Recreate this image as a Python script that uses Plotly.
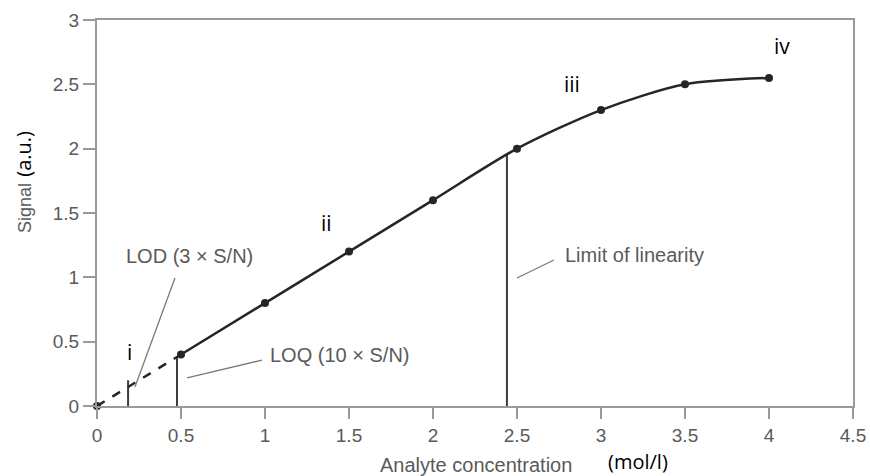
import plotly.graph_objects as go

# ---- data ----
conc = [0.5, 1.0, 1.5, 2.0, 2.5, 3.0, 3.5, 4.0]
signal = [0.4, 0.8, 1.2, 1.6, 2.0, 2.3, 2.5, 2.55]
dash_conc = [0.0, 0.5]
dash_signal = [0.0, 0.4]
origin_conc = [0.0]
origin_signal = [0.0]
limit_names = ["LOD", "LOQ", "Limit of linearity"]
limit_conc = [0.185, 0.476, 2.44]
limit_top = [0.2, 0.38, 1.96]
x_ticks = [0, 0.5, 1, 1.5, 2, 2.5, 3, 3.5, 4, 4.5]
y_ticks = [0, 0.5, 1, 1.5, 2, 2.5, 3]

GRAY_TXT = "#5a5a5a"
AXIS = "#9a9a9a"
LINE = "#262626"
SANS = "Liberation Sans, Arial, sans-serif"
CAL = "Open Sans, sans-serif"

fig = go.Figure()

# vertical limit markers
for xv, yt in zip(limit_conc, limit_top):
    fig.add_trace(go.Scatter(x=[xv, xv], y=[0, yt], mode="lines",
                             line=dict(color="#3c3c3c", width=2),
                             showlegend=False, hoverinfo="skip"))

fig.add_trace(go.Scatter(x=dash_conc, y=dash_signal, mode="lines",
                         line=dict(color=LINE, width=2.5, dash="dash"),
                         showlegend=False))
fig.add_trace(go.Scatter(x=conc, y=signal, mode="lines+markers",
                         line=dict(color=LINE, width=2.5, shape="spline", smoothing=0.8),
                         marker=dict(color=LINE, size=8),
                         showlegend=False))
fig.add_trace(go.Scatter(x=origin_conc, y=origin_signal, mode="markers",
                         marker=dict(color=LINE, size=8), showlegend=False,
                         cliponaxis=False))

# leader lines
leaders = [((0.464, 0.995), (0.226, 0.148)),
           ((0.536, 0.218), (0.982, 0.357)),
           ((2.5, 0.995), (2.72, 1.135))]
for (x0, y0), (x1, y1) in leaders:
    fig.add_shape(type="line", x0=x0, y0=y0, x1=x1, y1=y1, xref="x", yref="y",
                  line=dict(color="#7a7a7a", width=1.3))

ann = []
def txt(x, y, t, font, size, color, xanchor="left", **kw):
    ann.append(dict(x=x, y=y, text=t, showarrow=False, xanchor=xanchor,
                    yanchor="middle", font=dict(family=font, size=size, color=color), **kw))

txt(0.161, 1.166, "LOD (3 × S/N)", SANS, 20, GRAY_TXT)
txt(1.02, 0.396, "LOQ (10 × S/N)", SANS, 20, GRAY_TXT)
txt(2.774, 1.174, "Limit of linearity", SANS, 20, GRAY_TXT)
txt(0.196, 0.42, "i", CAL, 21, "#000", xanchor="center")
txt(1.369, 1.42, "ii", CAL, 21, "#000", xanchor="center")
txt(2.827, 2.50, "iii", CAL, 21, "#000", xanchor="center")
txt(4.077, 2.80, "iv", CAL, 21, "#000", xanchor="center")

# axis titles
ann.append(dict(xref="paper", yref="paper", x=-0.098, y=0.58, showarrow=False,
                textangle=-90, xanchor="center", yanchor="middle",
                text=f"<span style='font-family:{SANS};color:{GRAY_TXT};font-size:18px'>Signal</span>&nbsp;&nbsp;"
                     f"<span style='font-family:{CAL};color:#000;font-size:20px'>(a.u.)</span>"))
ann.append(dict(xref="paper", yref="paper", x=0.501, y=-0.153, showarrow=False,
                xanchor="center", yanchor="middle", text="Analyte concentration",
                font=dict(family=SANS, size=20, color=GRAY_TXT)))
ann.append(dict(xref="paper", yref="paper", x=0.716, y=-0.145, showarrow=False,
                xanchor="center", yanchor="middle", text="(mol/l)",
                font=dict(family=CAL, size=20, color="#000")))

fig.update_layout(
    width=870, height=476,
    margin=dict(l=97, r=17, t=20, b=70),
    paper_bgcolor="white", plot_bgcolor="white",
    annotations=ann,
    xaxis=dict(range=[0, 4.5], tickvals=x_ticks, ticktext=[f"{v:g}" for v in x_ticks],
               automargin=False,
               showgrid=False, zeroline=False, showline=True, linecolor=AXIS, linewidth=2,
               mirror=True, ticks="outside", ticklen=11, tickwidth=1.5, tickcolor=AXIS,
               tickfont=dict(family=SANS, size=19, color=GRAY_TXT)),
    yaxis=dict(range=[0, 3], tickvals=y_ticks, ticktext=[f"{v:g}" for v in y_ticks],
               automargin=False,
               showgrid=False, zeroline=False, showline=True, linecolor=AXIS, linewidth=2,
               mirror=True, ticks="outside", ticklen=12, tickwidth=1.5, tickcolor=AXIS,
               tickfont=dict(family=SANS, size=19, color=GRAY_TXT)),
)

fig.write_html("out.html", config={"displayModeBar": False},
               post_script="document.body.style.margin='0';")
